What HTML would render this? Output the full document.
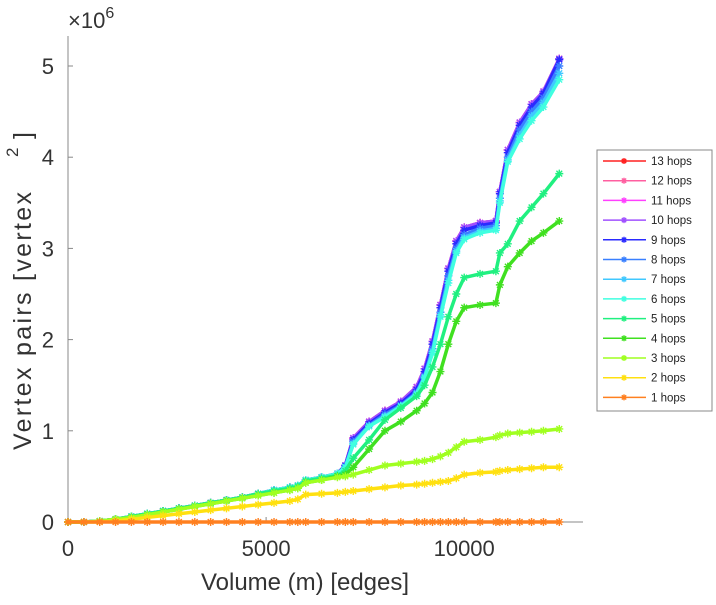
<!DOCTYPE html>
<html><head><meta charset="utf-8"><style>
body{margin:0;background:#fff;}
svg{font-family:"Liberation Sans",sans-serif;}
</style></head><body>
<svg id="chart" width="716" height="600"></svg>
<script>
const xs=[0,400,800,1200,1600,2000,2400,2800,3200,3600,4000,4400,4800,5200,5600,5800,6000,6400,6800,7000,7200,7600,8000,8400,8800,9000,9200,9400,9600,9800,10000,10400,10800,10900,11100,11400,11700,12000,12400];
const labels=["13 hops","12 hops","11 hops","10 hops","9 hops","8 hops","7 hops","6 hops","5 hops","4 hops","3 hops","2 hops","1 hops"];
const s9=[0,0,0.01,0.03,0.06,0.09,0.12,0.15,0.18,0.21,0.24,0.27,0.31,0.35,0.38,0.40,0.46,0.49,0.53,0.62,0.9,1.08,1.2,1.3,1.45,1.65,1.95,2.35,2.75,3.05,3.2,3.25,3.28,3.6,4.05,4.35,4.55,4.7,5.07];
const s10=[0,0,0.01,0.03,0.06,0.09,0.12,0.15,0.18,0.21,0.24,0.27,0.31,0.35,0.38,0.40,0.46,0.49,0.53,0.62,0.92,1.1,1.22,1.32,1.48,1.68,1.98,2.38,2.78,3.08,3.23,3.28,3.3,3.62,4.08,4.38,4.58,4.72,5.08];
const s8=[0,0,0.01,0.03,0.06,0.09,0.12,0.15,0.18,0.21,0.24,0.27,0.31,0.35,0.38,0.40,0.46,0.49,0.53,0.61,0.88,1.06,1.18,1.28,1.42,1.6,1.9,2.3,2.7,3.0,3.15,3.22,3.25,3.55,4.0,4.3,4.5,4.65,5.0];
const s7=[0,0,0.01,0.03,0.06,0.09,0.12,0.15,0.18,0.21,0.24,0.27,0.31,0.35,0.38,0.40,0.46,0.49,0.53,0.6,0.86,1.05,1.16,1.27,1.41,1.59,1.87,2.27,2.65,2.97,3.12,3.19,3.22,3.52,3.97,4.24,4.45,4.6,4.92];
const s6=[0,0,0.01,0.03,0.06,0.09,0.12,0.15,0.18,0.21,0.24,0.27,0.31,0.35,0.38,0.40,0.46,0.49,0.53,0.6,0.85,1.05,1.15,1.27,1.4,1.58,1.85,2.25,2.62,2.95,3.1,3.17,3.2,3.5,3.95,4.2,4.4,4.55,4.85];
const s5=[0,0,0.01,0.03,0.06,0.09,0.12,0.15,0.18,0.21,0.24,0.27,0.31,0.34,0.37,0.39,0.45,0.48,0.51,0.56,0.7,0.9,1.12,1.25,1.38,1.5,1.7,1.95,2.25,2.5,2.68,2.72,2.75,2.95,3.05,3.3,3.45,3.6,3.82];
const s4=[0,0,0.01,0.03,0.05,0.08,0.11,0.14,0.17,0.2,0.23,0.26,0.29,0.32,0.35,0.37,0.43,0.46,0.5,0.52,0.6,0.8,1.0,1.1,1.22,1.3,1.42,1.65,1.95,2.2,2.35,2.38,2.4,2.6,2.8,2.95,3.08,3.17,3.3];
const s3=[0,0,0.01,0.03,0.05,0.08,0.11,0.14,0.17,0.2,0.23,0.26,0.29,0.32,0.35,0.37,0.43,0.46,0.49,0.5,0.52,0.57,0.62,0.64,0.66,0.67,0.69,0.72,0.76,0.82,0.88,0.9,0.93,0.95,0.97,0.98,0.99,1.0,1.02];
const s2=[0,0,0,0.01,0.03,0.05,0.07,0.09,0.11,0.13,0.15,0.17,0.19,0.21,0.23,0.25,0.3,0.31,0.32,0.33,0.34,0.36,0.38,0.4,0.41,0.42,0.43,0.44,0.45,0.48,0.52,0.54,0.55,0.56,0.57,0.58,0.59,0.6,0.6];
const s1=xs.map(()=>0);
const series=[s10,s10,s10,s10,s9,s8,s7,s6,s5,s4,s3,s2,s1];
const colors=["#ff2020","#ff5fa0","#ff40ff","#a050ff","#2a2aff","#3a80ff","#40c8ff","#40ffe0","#20f080","#40e020","#a0ff20","#ffe010","#ff8020"];
const xticks=[0,5000,10000], yticks=[0,1,2,3,4,5];
const X=v=>68+v*0.03962, Y=v=>522-v*91.2;
const svg=document.getElementById('chart');
const NS="http://www.w3.org/2000/svg";
function mk(t,a,p){const e=document.createElementNS(NS,t);for(const k in a)e.setAttribute(k,a[k]);(p||svg).appendChild(e);return e;}
function star(g,x,y,c,r){r=r||3.5;const d=r*0.72;mk('path',{d:`M${x-r},${y}h${2*r}M${x},${y-r}v${2*r}M${x-d},${y-d}l${2*d},${2*d}M${x-d},${y+d}l${2*d},${-2*d}`,stroke:c,'stroke-width':1.4,fill:'none'},g);}
// axes
const ax=mk('g',{});


mk('line',{x1:68,y1:36,x2:68,y2:522,stroke:'#888','stroke-width':1},ax);
mk('line',{x1:68,y1:522,x2:583,y2:522,stroke:'#888','stroke-width':1},ax);
xticks.forEach(t=>{mk('line',{x1:X(t),y1:522,x2:X(t),y2:517,stroke:'#888'},ax);const tx=mk('text',{x:X(t),y:556,'text-anchor':'middle','font-size':22,fill:'#333'},ax);tx.textContent=t;});
yticks.forEach(t=>{mk('line',{x1:68,y1:Y(t),x2:73,y2:Y(t),stroke:'#888'},ax);const tx=mk('text',{x:54,y:Y(t)+8,'text-anchor':'end','font-size':22,fill:'#333'},ax);tx.textContent=t;});
const ex=mk('text',{x:68,y:28,'font-size':22,fill:'#333'});ex.innerHTML='×10<tspan dy="-10" font-size="16">6</tspan>';

const xl=mk('text',{x:305,y:590,'text-anchor':'middle','font-size':24,fill:'#333'});xl.textContent='Volume (m) [edges]';

const yg=mk('g',{});

const yl=mk('text',{x:0,y:0,'font-size':25,fill:'#333',transform:'translate(31,450) rotate(-90)',textLength:258,lengthAdjust:'spacing'},yg);
yl.textContent='Vertex pairs [vertex';
const y2=mk('text',{x:0,y:0,'font-size':17,fill:'#333',transform:'translate(18,157) rotate(-90)'},yg);y2.textContent='2';
const y3=mk('text',{x:0,y:0,'font-size':25,fill:'#333',transform:'translate(31,139) rotate(-90)'},yg);y3.textContent=']';
// series
series.forEach((s,i)=>{
 const g=mk('g',{});
 
 
 mk('polyline',{points:s.map((v,j)=>X(xs[j])+','+Y(v)).join(' '),fill:'none',stroke:colors[i],'stroke-width':3.5,'stroke-linejoin':'round'},g);
 s.forEach((v,j)=>star(g,X(xs[j]),Y(v),colors[i],4));
});
// legend
const lg=mk('g',{});


mk('rect',{x:597,y:150,width:115,height:261,fill:'#fff',stroke:'#888'},lg);
labels.forEach((l,i)=>{
 const y=161+i*19.7;
 const e=mk('g',{},lg);
 
 
 mk('line',{x1:603,y1:y,x2:646,y2:y,stroke:colors[i],'stroke-width':1.5},e);
 star(e,624,y,colors[i],3);
 const t=mk('text',{x:651,y:y+4,'font-size':11.5,fill:'#222'},e);t.textContent=l;
});
</script>
</body></html>
